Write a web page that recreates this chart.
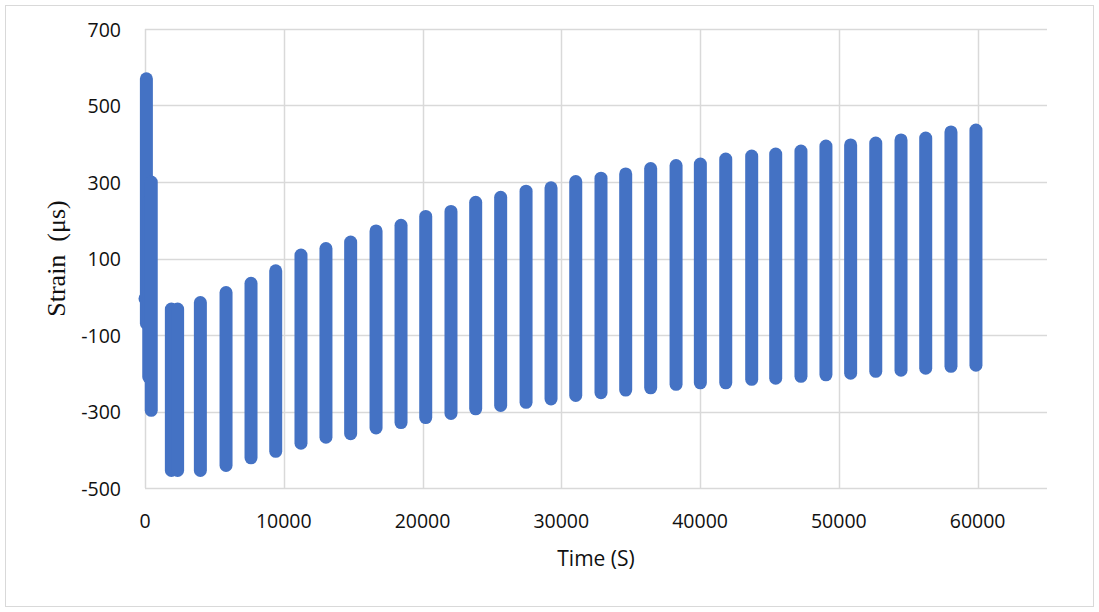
<!DOCTYPE html>
<html>
<head>
<meta charset="utf-8">
<script src="https://cdn.jsdelivr.net/npm/d3@7"></script>
<style>
  body { margin: 0; background: #fff; }
  text { fill: #111; }
  .tick-label { font-family: "Open Sans", sans-serif; font-size: 19.5px; }
</style>
</head>
<body>
<div id="chart"></div>
<script>
// each entry is one burst of readings: time (s), highest and lowest strain (με)
const burstTime = [0, 100, 270, 450,
  1900, 2350, 3990, 5840, 7640, 9420, 11240, 13040, 14820, 16650, 18450,
  20230, 22050, 23830, 25630, 27460, 29260, 31040, 32860, 34640, 36440,
  38270, 40020, 41850, 43720, 45450, 47270, 49070, 50850, 52660, 54480,
  56260, 58080, 59880];
const burstMax = [-5, 570, 250, 300,
  -32, -32, -15, 11, 35, 68, 109, 126, 143, 172, 187,
  210, 223, 247, 260, 276, 285, 301, 310, 321, 335,
  343, 347, 360, 368, 373, 381, 394, 397, 402, 410,
  415, 431, 436];
const burstMin = [-5, -70, -210, -297,
  -454, -454, -454, -441, -421, -404, -383, -367, -358, -343, -329,
  -316, -305, -293, -284, -276, -267, -258, -251, -244, -238,
  -229, -225, -225, -216, -213, -208, -204, -200, -195, -192,
  -187, -182, -179];

const xTicks = [0, 10000, 20000, 30000, 40000, 50000, 60000];
const yTicks = [-500, -300, -100, 100, 300, 500, 700];

const width = 1099,
  height = 612,
  margin = { top: 29, right: 52, bottom: 124, left: 145 };

const svg = d3
  .select("#chart")
  .append("svg")
  .attr("width", width)
  .attr("height", height);

// chart frame
svg
  .append("rect")
  .attr("x", 5.5)
  .attr("y", 5.5)
  .attr("width", width - 11)
  .attr("height", height - 11)
  .attr("fill", "none")
  .attr("stroke", "#d9d9d9");

let x = d3
  .scaleLinear()
  .domain([0, 65000])
  .range([margin.left, width - margin.right]);

let y = d3
  .scaleLinear()
  .domain([-500, 700])
  .range([height - margin.bottom, margin.top]);

// horizontal grid
svg
  .append("g")
  .selectAll("line")
  .data(yTicks)
  .join("line")
  .attr("x1", x.range()[0])
  .attr("x2", x.range()[1])
  .attr("y1", (d) => Math.round(y(d)) + 0.5)
  .attr("y2", (d) => Math.round(y(d)) + 0.5)
  .attr("stroke", "#d9d9d9")
  .attr("stroke-width", 1.5);

// vertical grid
svg
  .append("g")
  .selectAll("line")
  .data(xTicks)
  .join("line")
  .attr("x1", (d) => Math.round(x(d)) + 0.5)
  .attr("x2", (d) => Math.round(x(d)) + 0.5)
  .attr("y1", y.range()[0])
  .attr("y2", y.range()[1])
  .attr("stroke", "#d9d9d9")
  .attr("stroke-width", 1.5);

// tick labels
svg
  .append("g")
  .selectAll("text")
  .data(yTicks)
  .join("text")
  .attr("class", "tick-label")
  .attr("x", margin.left - 24)
  .attr("y", (d) => y(d))
  .attr("text-anchor", "end")
  .attr("dominant-baseline", "central")
  .text((d) => d);

svg
  .append("g")
  .selectAll("text")
  .data(xTicks)
  .join("text")
  .attr("class", "tick-label")
  .attr("x", (d) => x(d))
  .attr("y", y(-500) + 40)
  .attr("text-anchor", "middle")
  .text((d) => d);

// axis titles
svg
  .append("text")
  .attr("x", (x.range()[0] + x.range()[1]) / 2)
  .attr("y", 566)
  .attr("text-anchor", "middle")
  .style("font-family", "'Open Sans', sans-serif")
  .style("font-size", "21px")
  .text("Time (S)");

svg
  .append("text")
  .attr("transform", `translate(65,${(y.range()[0] + y.range()[1]) / 2}) rotate(-90)`)
  .attr("text-anchor", "middle")
  .style("font-family", "'Liberation Serif', 'Times New Roman', serif")
  .style("font-size", "26px")
  .style("white-space", "pre")
  .text("Strain  (μs)");

// the bursts: a stack of overlapping round markers, drawn as a capped stroke
svg
  .append("g")
  .selectAll("line")
  .data(burstTime)
  .join("line")
  .attr("x1", (d) => x(d))
  .attr("x2", (d) => x(d))
  .attr("y1", (d, i) => y(burstMax[i]))
  .attr("y2", (d, i) => y(burstMin[i]))
  .attr("stroke", "#4472c4")
  .attr("stroke-width", 13)
  .attr("stroke-linecap", "round");
</script>
</body>
</html>
